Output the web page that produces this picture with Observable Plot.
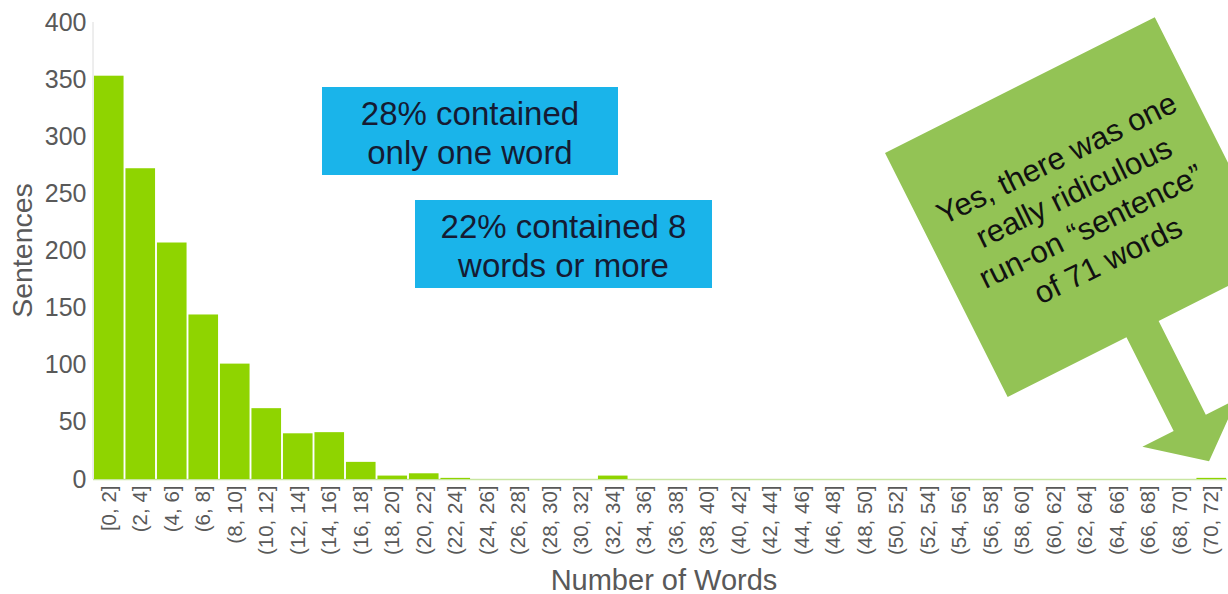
<!DOCTYPE html>
<html><head><meta charset="utf-8">
<script src="https://cdn.jsdelivr.net/npm/d3@7"></script>
<script src="https://cdn.jsdelivr.net/npm/@observablehq/plot@0.6"></script>
<style>body{margin:0;background:#fff} #chart svg{display:block}</style>
</head><body><div id="chart"></div>
<script>
// ---- data ----
const bins = ["[0, 2]","(2, 4]","(4, 6]","(6, 8]","(8, 10]","(10, 12]","(12, 14]","(14, 16]","(16, 18]","(18, 20]",
  "(20, 22]","(22, 24]","(24, 26]","(26, 28]","(28, 30]","(30, 32]","(32, 34]","(34, 36]","(36, 38]","(38, 40]",
  "(40, 42]","(42, 44]","(44, 46]","(46, 48]","(48, 50]","(50, 52]","(52, 54]","(54, 56]","(56, 58]","(58, 60]",
  "(60, 62]","(62, 64]","(64, 66]","(66, 68]","(68, 70]","(70, 72]"];
const counts = [353,272,207,144,101,62,40,41,15,3,
  5,1,0,0,0,0,3,0,0,0,
  0,0,0,0,0,0,0,0,0,0,
  0,0,0,0,0,1];
const yTicks = [0,50,100,150,200,250,300,350,400];
const yLabel = "Sentences";
const xLabel = "Number of Words";
const note1 = ["28% contained","only one word"];
const note2 = ["22% contained 8","words or more"];
const note3 = ["Yes, there was one","really ridiculous","run-on \u201csentence\u201d","of 71 words"];

const data = bins.map((bin, i) => ({bin, count: counts[i]}));

const W = 1228, H = 594;
const M = {left: 93, right: 1, top: 22, bottom: 115};
const FONT = "'Liberation Sans', Arial, Helvetica, sans-serif";

const chart = Plot.plot({
  width: W, height: H,
  marginLeft: M.left, marginRight: M.right, marginTop: M.top, marginBottom: M.bottom,
  style: {fontFamily: FONT, color: "#595959", background: "#fff", overflow: "visible"},
  x: {domain: bins, paddingInner: 0.06, paddingOuter: 0.03, round: false},
  y: {domain: [0, 400]},
  marks: [
    Plot.ruleY([0], {stroke: "#c9e6a2", strokeWidth: 1.5}),
    Plot.barY(data, {x: "bin", y: "count", fill: "#8fd400"}),
    Plot.axisY({ticks: yTicks, tickSize: 0, tickPadding: 7, fontSize: 25, label: null}),
    Plot.axisX({tickSize: 0, tickRotate: -90, tickPadding: 6, fontSize: 20.5, label: null})
  ]
});
document.getElementById("chart").appendChild(chart);

const svg = d3.select(chart);
const ys = chart.scale("y");
const y0 = ys.apply(0), yTop = ys.apply(400);

// left axis line
svg.append("line").attr("x1", M.left).attr("x2", M.left).attr("y1", yTop).attr("y2", y0)
  .attr("stroke", "#dcdcdc").attr("stroke-width", 1);

// axis titles
svg.append("text").text(yLabel)
  .attr("transform", `translate(22,${(yTop + y0) / 2}) rotate(-90)`)
  .attr("text-anchor", "middle").attr("dominant-baseline", "central")
  .attr("font-family", FONT).attr("font-size", 28.5).attr("fill", "#595959");
svg.append("text").text(xLabel)
  .attr("x", 664).attr("y", 590)
  .attr("text-anchor", "middle")
  .attr("font-family", FONT).attr("font-size", 29).attr("fill", "#595959");

// blue notes
function note(x, y, w, h, lines, cy) {
  const g = svg.append("g");
  g.append("rect").attr("x", x).attr("y", y).attr("width", w).attr("height", h).attr("fill", "#1ab4ea");
  lines.forEach((t, i) => {
    g.append("text").text(t).attr("x", x + w / 2).attr("y", cy[i])
      .attr("text-anchor", "middle").attr("dominant-baseline", "central")
      .attr("font-family", FONT).attr("font-size", 33).attr("fill", "#151b33");
  });
}
note(322, 87, 296, 88, note1, [113, 152]);
note(415, 200, 297, 88, note2, [226, 265]);

// green callout arrow
const cg = svg.append("g").attr("transform", "translate(885,153) rotate(-26.7)");
cg.append("path")
  .attr("d", "M0,0 H302 V273 H169 V378 H204 L151,421 L98,378 H133 V273 H0 Z")
  .attr("fill", "#93c355");
note3.forEach((t, i) => {
  const cy = 82 + i * 38;
  cg.append("text").text(t).attr("x", 151).attr("y", cy)
    .attr("text-anchor", "middle").attr("dominant-baseline", "central")
    .attr("transform", "rotate(0.7,151," + cy + ")")
    .attr("font-family", FONT).attr("font-size", 31).attr("fill", "#111");
});
</script>
</body></html>
